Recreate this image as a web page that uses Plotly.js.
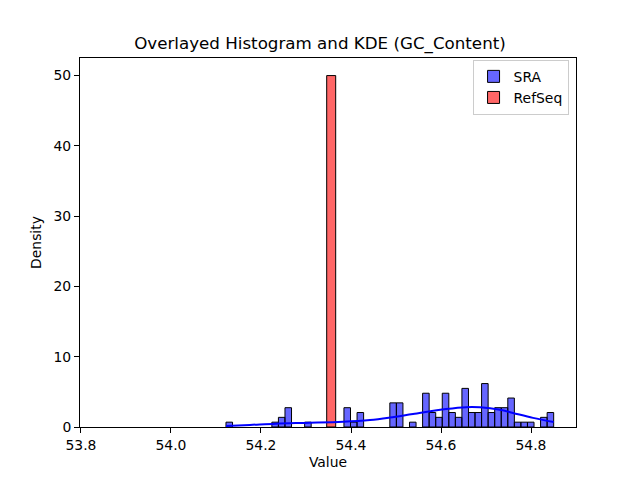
<!DOCTYPE html>
<html>
<head>
<meta charset="utf-8">
<script src="https://cdn.plot.ly/plotly-3.0.1.min.js"></script>
<style>html,body{margin:0;padding:0;background:#fff}#chart{width:640px;height:480px}</style>
</head>
<body>
<div id="chart"></div>
<script>
// SRA histogram: 50 bins, counts per bin (N = 100)
const sraBinStart = 54.1222;
const sraBinEnd = 54.8504;
const sraCounts = [1,0,0,0,0,0,0,1,2,4,
                   0,0,1,0,0,0,0,0,4,1,
                   3,0,0,0,0,5,5,0,1,0,
                   7,3,2,7,3,2,8,3,3,9,
                   3,4,4,6,1,1,1,0,2,3];
// RefSeq: single value, density 50 over width 0.02
const refseqX = [54.356];
const refseqDensity = [50];
const refseqWidth = [0.02];
// KDE of SRA
const kdeX = [54.1222,54.1756,54.2333,54.3089,54.3822,54.4422,54.4867,54.5378,54.6111,54.6556,54.6867,54.7311,54.76,54.8044,54.8504];
const kdeY = [0.15,0.3,0.48,0.6,0.75,1.0,1.35,1.85,2.55,2.82,2.8,2.45,2.0,1.3,0.7];

const nBins = sraCounts.length;
const bw = (sraBinEnd - sraBinStart) / nBins;
const total = sraCounts.reduce((a,b)=>a+b,0);
const sx=[], sy=[];
sraCounts.forEach((c,i)=>{ if(c>0){ sx.push(sraBinStart + (i+0.5)*bw); sy.push(c/(total*bw)); } });

const traces = [
  {type:'bar', name:'SRA', x:sx, y:sy, width:sx.map(()=>bw),
   marker:{color:'rgba(0,0,255,0.6)', line:{color:'#000', width:1}}},
  {type:'bar', name:'RefSeq', x:refseqX, y:refseqDensity, width:refseqWidth,
   marker:{color:'rgba(255,0,0,0.6)', line:{color:'#000', width:1}}},
  {type:'scatter', mode:'lines', x:kdeX, y:kdeY, showlegend:false,
   line:{color:'blue', width:2, shape:'spline'}, hoverinfo:'skip'}
];

const layout = {
  width:640, height:480,
  margin:{l:80, r:64, t:58, b:53},
  paper_bgcolor:'#fff', plot_bgcolor:'#fff',
  font:{family:'DejaVu Sans', size:13.9, color:'#000'},
  barmode:'overlay', bargap:0,
  title:{text:'Overlayed Histogram and KDE (GC_Content)', font:{size:16.7}, x:0.5, xanchor:'center', y:0.897, yanchor:'bottom'},
  xaxis:{range:[53.7978, 54.9], tickvals:[53.8,54.0,54.2,54.4,54.6,54.8], ticktext:['53.8','54.0','54.2','54.4','54.6','54.8'],
         ticks:'outside', ticklen:5, tickcolor:'#000', showline:true, linecolor:'#000', linewidth:1, mirror:true,
         showgrid:false, zeroline:false, title:{text:'Value', font:{size:13.9}, standoff:5}, tickfont:{size:13.9}},
  yaxis:{range:[0, 52.5], tickvals:[0,10,20,30,40,50],
         ticks:'outside', ticklen:5, tickcolor:'#000', showline:true, linecolor:'#000', linewidth:1, mirror:true,
         showgrid:false, zeroline:false, title:{text:'Density', font:{size:13.9}, standoff:8}, tickfont:{size:13.9}},
  legend:{x:0.985, xanchor:'right', y:0.995, yanchor:'top', bordercolor:'#cccccc', borderwidth:1, bgcolor:'rgba(255,255,255,0.8)',
          font:{size:13.9}, traceorder:'normal'}
};
Plotly.newPlot('chart', traces, layout, {displayModeBar:false, staticPlot:true});
</script>
</body>
</html>
